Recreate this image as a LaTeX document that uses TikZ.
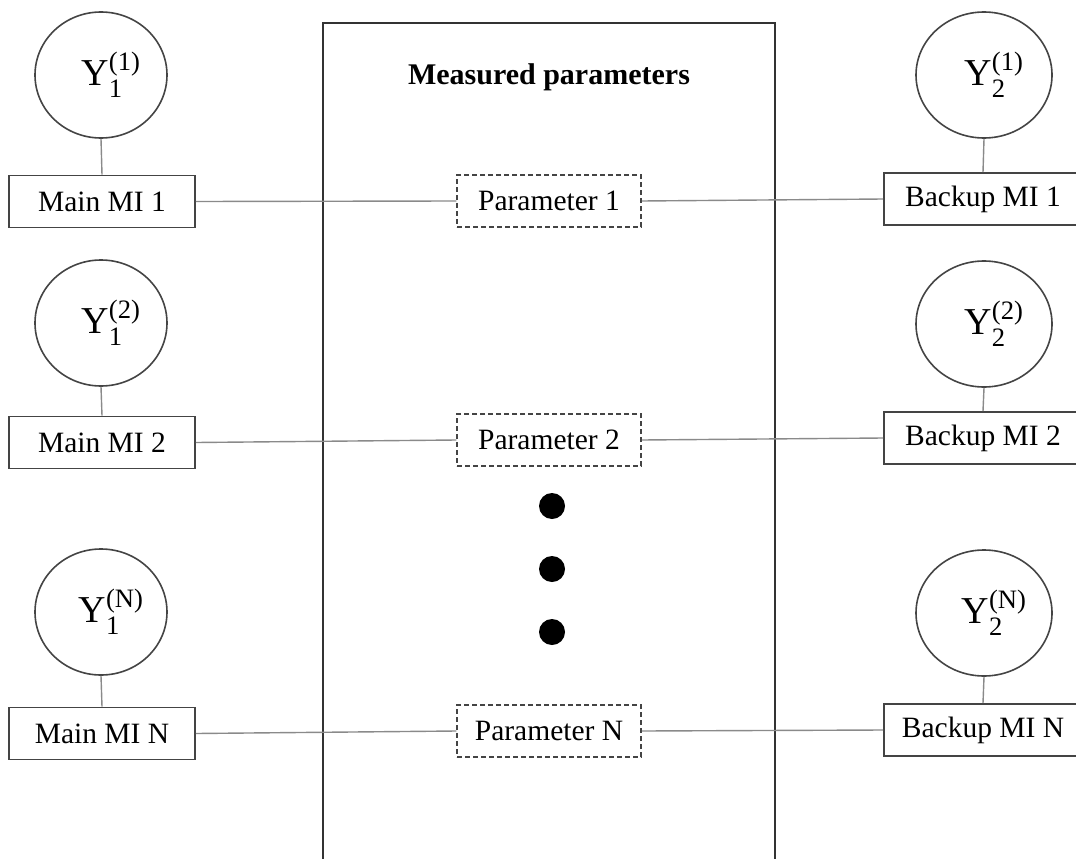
\documentclass[tikz,border=0pt]{standalone}
\usepackage{fontspec}
\usepackage{amsmath}
\setmainfont{Liberation Serif}
\usetikzlibrary{shapes.geometric}
\definecolor{boxline}{HTML}{444444}
\definecolor{conline}{HTML}{8A8A8A}
\newcommand{\yl}[2]{\hspace{20pt}$\text{Y}_{\text{#1}}^{\text{(#2)}}$}
\tikzset{
  yval/.style={draw=boxline, line width=1.6pt, ellipse, inner sep=0pt, minimum height=126, font=\fontsize{38}{40}\selectfont},
  mibox/.style={draw=boxline, line width=1.8pt, rectangle, inner sep=0pt, minimum height=52, font=\fontsize{29.5}{32}\selectfont},
  parbox/.style={draw=boxline, line width=1.5pt, dash pattern=on 5pt off 3pt, rectangle, inner sep=0pt, minimum width=184, minimum height=52, font=\fontsize{29.5}{32}\selectfont},
  conn/.style={draw=conline, line width=1.4pt},
  bigbox/.style={draw=black!80, line width=2.2pt},
  dotmark/.style={circle, fill=black, inner sep=0pt, minimum size=26}
}
\begin{document}
\begin{tikzpicture}[x=1pt,y=-1pt]
\useasboundingbox (0,0) rectangle (1076,859);
\clip (0,0) rectangle (1076,859);
% big rectangle
\draw[bigbox] (323,880) -- (323,23) -- (775,23) -- (775,880);
\node[font=\fontsize{30}{32}\selectfont\bfseries] (title) at (549,77) {Measured parameters};
% left circles
\node[yval, minimum width=132] (l1) at (101,75) {\yl{1}{1}};
\node[yval, minimum width=132] (l2) at (101,323) {\yl{1}{2}};
\node[yval, minimum width=132] (l3) at (101,612) {\yl{1}{N}};
% right circles
\node[yval, minimum width=136] (r1) at (984,75) {\yl{2}{1}};
\node[yval, minimum width=136] (r2) at (984,324) {\yl{2}{2}};
\node[yval, minimum width=136] (r3) at (984,613) {\yl{2}{N}};
% main boxes
\node[mibox, minimum width=186] (m1) at (102,201.5) {Main MI 1};
\node[mibox, minimum width=186] (m2) at (102,442.5) {Main MI 2};
\node[mibox, minimum width=186] (m3) at (102,733.5) {Main MI N};
% backup boxes
\node[mibox, minimum width=198] (b1) at (983,199) {Backup MI 1};
\node[mibox, minimum width=198] (b2) at (983,438) {Backup MI 2};
\node[mibox, minimum width=198] (b3) at (983,730) {Backup MI N};
% parameter boxes
\node[parbox] (p1) at (549,201) {Parameter 1};
\node[parbox] (p2) at (549,440) {Parameter 2};
\node[parbox] (p3) at (549,731) {Parameter N};
% dots
\node[dotmark] (d1) at (552,506) {};
\node[dotmark] (d2) at (552,569) {};
\node[dotmark] (d3) at (552,632) {};
% connectors
\foreach \i in {1,2,3} {
  \draw[conn] (l\i.south) -- (m\i.north);
  \draw[conn] (r\i.south) -- (b\i.north);
  \draw[conn] (m\i.east) -- (p\i.west);
  \draw[conn] (p\i.east) -- (b\i.west);
}
\end{tikzpicture}
\end{document}
